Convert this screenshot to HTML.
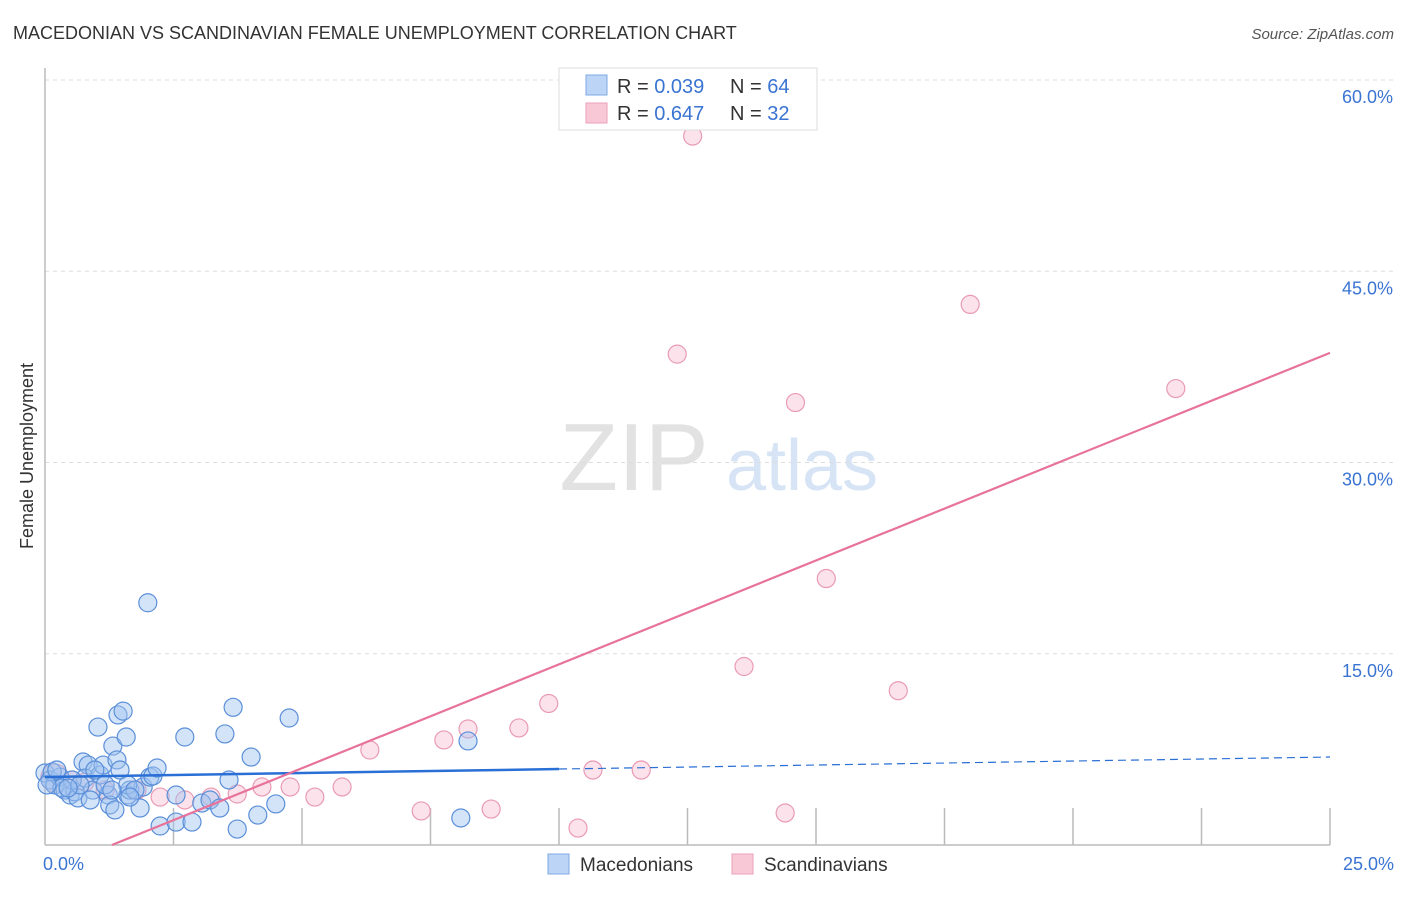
<!DOCTYPE html>
<html><head><meta charset="utf-8"><style>
body{margin:0;background:#fff;font-family:"Liberation Sans",sans-serif;}
svg text{font-family:"Liberation Sans",sans-serif;}
</style></head><body>
<svg id="chart" width="1406" height="892" viewBox="0 0 1406 892">
<text x="13" y="39" font-size="18" fill="#333">MACEDONIAN VS SCANDINAVIAN FEMALE UNEMPLOYMENT CORRELATION CHART</text>
<text x="1394" y="39" font-size="15" fill="#555" text-anchor="end" font-style="italic">Source: ZipAtlas.com</text>
<text x="33" y="456" font-size="18" fill="#333" text-anchor="middle" transform="rotate(-90 33 456)">Female Unemployment</text>
<g>
<text x="634" y="490" font-size="96" fill="#e2e2e2" text-anchor="middle" font-family="Liberation Serif,serif">ZIP</text>
<text x="802" y="490" font-size="72" fill="#d6e4f5" text-anchor="middle">atlas</text>
</g>
<g id="grid"></g>
<g id="axes"></g>
<g id="marks"></g>
<g>
<rect x="559" y="68" width="258" height="62" fill="#fff" stroke="#ddd"/>
<rect x="586" y="75" width="21" height="20" fill="#bcd5f7" stroke="#7fa9e6"/>
<rect x="586" y="103" width="21" height="20" fill="#f9c8d7" stroke="#eba0b8"/>
<text x="617" y="93" font-size="20" fill="#333">R = <tspan fill="#3a74d2">0.039</tspan></text>
<text x="730" y="93" font-size="20" fill="#333">N = <tspan fill="#3a74d2">64</tspan></text>
<text x="617" y="120" font-size="20" fill="#333">R = <tspan fill="#3a74d2">0.647</tspan></text>
<text x="730" y="120" font-size="20" fill="#333">N = <tspan fill="#3a74d2">32</tspan></text>
</g>
<g>
<rect x="548" y="854" width="21" height="20" fill="#bcd5f7" stroke="#7fa9e6"/>
<text x="580" y="871" font-size="19" fill="#333">Macedonians</text>
<rect x="732" y="854" width="21" height="20" fill="#f9c8d7" stroke="#eba0b8"/>
<text x="764" y="871" font-size="19" fill="#333">Scandinavians</text>
</g>
</svg>
<script>
const blueX=[2.00,0,0.10,0.19,0.29,0.39,0.49,0.58,0.64,0.74,0.84,0.78,0.93,1.03,1.07,1.13,1.23,1.26,1.32,1.36,1.40,1.42,1.52,1.58,1.46,1.61,1.65,1.85,1.91,2.04,2.10,2.18,2.24,2.55,2.55,2.72,2.86,3.05,3.21,3.40,3.50,3.58,3.66,3.74,4.01,4.14,4.49,4.75,8.23,8.09,1.61,1.17,0.97,0.53,0.68,0.33,0.14,1.75,1.30,0.88,0.45,0.23,0.04,1.65];
const blueY=[19.0,5.65,5.10,4.71,5.33,4.31,3.92,4.16,3.69,6.51,6.27,5.25,4.31,9.25,5.49,6.27,3.92,3.14,7.76,2.75,6.67,10.2,10.5,8.47,5.88,3.92,4.31,2.90,4.55,5.33,5.41,6.04,1.49,3.92,1.80,8.47,1.80,3.29,3.53,2.90,8.71,5.10,10.8,1.25,6.90,2.35,3.22,9.96,8.16,2.12,4.71,4.71,5.88,5.10,4.71,4.47,5.73,4.31,4.31,3.53,4.47,5.88,4.71,3.76];
const pinkX=[0.19,12.6,18.0,12.3,22.0,14.6,15.2,13.6,16.6,9.8,8.23,9.22,6.32,7.76,10.66,11.6,5.78,4.77,3.74,4.22,5.25,3.23,2.72,2.24,1.79,1.17,7.32,8.68,10.37,14.4,0.53,0.78];
const pinkY=[5.25,55.6,42.4,38.5,35.8,34.7,20.9,14.0,12.1,11.1,9.1,9.18,7.45,8.24,5.88,5.88,4.55,4.55,4.0,4.55,3.76,3.76,3.53,3.76,4.31,4.31,2.67,2.82,1.33,2.51,5.10,4.94];
const yTicks=[15,30,45,60];
const yTickLabels=["15.0%","30.0%","45.0%","60.0%"];
const xTickLabels=["0.0%","25.0%"];
const blueTrend=[5.33,6.9];
const pinkTrend=[-2.12,38.6];
const X0=45,X1=1330,Y0=845,PXY=12.75;
const sx=v=>X0+v*(X1-X0)/25, sy=v=>Y0-v*PXY;
const NS="http://www.w3.org/2000/svg";
function mk(t,a,p){const e=document.createElementNS(NS,t);for(const k in a)e.setAttribute(k,a[k]);p.appendChild(e);return e;}
const grid=document.getElementById('grid'),axes=document.getElementById('axes'),marks=document.getElementById('marks');
yTicks.forEach((t,i)=>{
 const l=mk('line',{x1:X0,x2:1395,y1:sy(t),y2:sy(t),stroke:'#ddd','stroke-dasharray':'4 4'},grid);
 
 
 const tx=mk('text',{x:1393,y:sy(t)+23,'font-size':18,fill:'#3a74d2','text-anchor':'end'},axes);
 tx.textContent=yTickLabels[i];
 
 
});
const ya=mk('line',{x1:X0,x2:X0,y1:68,y2:Y0,stroke:'#bbb','stroke-width':1.5},axes);


const xa=mk('line',{x1:X0,x2:X1,y1:Y0,y2:Y0,stroke:'#bbb','stroke-width':1.5},axes);


for(let i=1;i<=10;i++){
 const x=sx(i*2.5);
 const t=mk('line',{x1:x,x2:x,y1:808,y2:Y0,stroke:'#bbb','stroke-width':1.5},axes);
 
 
}
[[0,'start',X0-2],[1,'end',1394]].forEach(([i,a,x])=>{
 const tx=mk('text',{x:x,y:870,'font-size':18,fill:'#3a74d2','text-anchor':a},axes);
 tx.textContent=xTickLabels[i];
 
 
});
pinkX.forEach((x,i)=>{
 const c=mk('circle',{cx:sx(x),cy:sy(pinkY[i]),r:i===0?14:9,fill:'rgba(248,185,205,0.4)',stroke:'#e99ab4','stroke-width':1.2},marks);
 
 
});
blueX.forEach((x,i)=>{
 const c=mk('circle',{cx:sx(x),cy:sy(blueY[i]),r:9,fill:'rgba(160,196,240,0.45)',stroke:'#5b8fd9','stroke-width':1.2},marks);
 
 
});
const bm=blueTrend[0]+(blueTrend[1]-blueTrend[0])*(10/25);
const b1=mk('line',{x1:sx(0),y1:sy(blueTrend[0]),x2:sx(10),y2:sy(bm),stroke:'#2a6fd6','stroke-width':2.5},marks);


const b2=mk('line',{x1:sx(10),y1:sy(bm),x2:sx(25),y2:sy(blueTrend[1]),stroke:'#2a6fd6','stroke-width':1.2,'stroke-dasharray':'8 5'},marks);


const slope=(pinkTrend[1]-pinkTrend[0])/25, xs=-pinkTrend[0]/slope;
const p=mk('line',{x1:sx(xs),y1:sy(0),x2:sx(25),y2:sy(pinkTrend[1]),stroke:'#e8739a','stroke-width':2.2},marks);


</script>
</body></html>
